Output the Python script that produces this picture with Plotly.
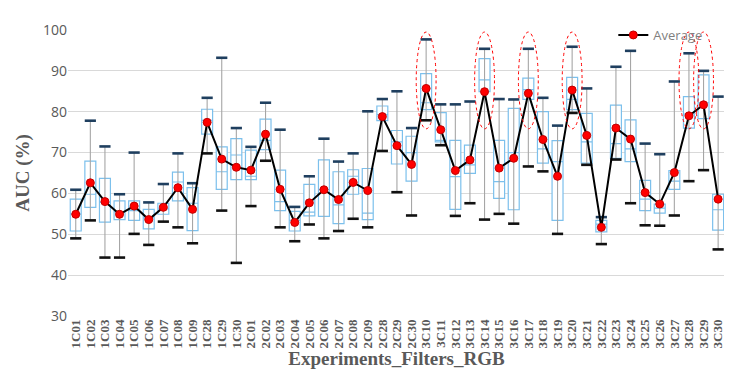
import plotly.graph_objects as go

categories = ["1C01","1C02","1C03","1C04","1C05","1C06","1C07","1C08","1C09","1C28","1C29","1C30",
              "2C01","2C02","2C03","2C04","2C05","2C06","2C07","2C08","2C09","2C28","2C29","2C30",
              "3C10","3C11","3C12","3C13","3C14","3C15","3C16","3C17","3C18","3C19","3C20","3C21",
              "3C22","3C23","3C24","3C25","3C26","3C27","3C28","3C29","3C30"]

whisker_low = [49.0,53.4,44.3,44.3,50.1,47.4,53.1,51.7,47.8,69.8,55.8,43.0,
               56.9,68.0,51.7,48.3,52.4,49.0,50.8,53.8,51.7,70.4,60.3,54.6,
               77.9,71.8,54.5,57.6,53.6,55.0,52.6,66.6,65.4,50.1,79.7,67.0,
               47.6,68.3,57.6,52.2,52.1,54.6,63.0,65.7,46.3]
q1 = [50.8,56.6,53.0,53.6,53.4,51.3,54.9,58.2,50.9,74.5,61.0,63.4,
      63.4,70.7,55.8,50.8,54.5,54.4,52.6,59.8,53.6,77.8,67.2,63.0,
      80.5,72.6,56.1,64.9,84.9,58.8,56.0,83.0,67.4,53.4,80.5,67.4,
      50.6,68.6,67.8,55.8,55.2,61.0,76.0,78.3,51.0]
median = [55.0,59.8,57.8,55.5,55.8,54.0,56.2,62.8,57.6,77.9,65.3,69.4,
          64.2,73.0,58.0,53.4,55.4,61.0,57.2,64.2,55.2,79.3,72.6,70.0,
          82.2,73.0,64.1,67.0,87.8,62.9,70.0,85.4,70.9,67.8,83.0,72.6,
          52.5,72.2,70.9,58.6,56.4,63.0,79.4,82.2,56.0]
q3 = [58.6,67.9,63.7,58.2,58.2,56.1,57.6,65.2,61.4,80.6,71.4,73.4,
      70.6,78.2,65.7,55.6,62.2,68.2,65.3,65.8,66.1,81.4,75.4,74.0,
      89.3,79.8,73.0,71.8,93.0,73.0,80.8,88.2,80.0,72.9,88.4,79.6,
      53.4,81.6,78.0,63.2,57.4,65.6,83.7,89.0,59.8]
whisker_high = [60.9,77.8,71.5,59.8,70.0,57.8,62.3,69.8,62.5,83.4,93.2,76.0,
                71.4,82.2,75.6,56.7,64.2,73.4,67.8,69.8,80.1,83.1,85.0,76.0,
                97.7,81.8,81.8,82.5,95.4,83.1,83.0,95.4,83.4,76.6,95.9,85.7,
                54.2,91.0,94.9,72.2,69.6,87.4,94.3,90.0,83.7]
average = [54.9,62.6,58.0,54.9,56.9,53.6,56.6,61.4,56.1,77.4,68.4,66.4,
           65.7,74.5,61.0,52.9,57.7,60.9,58.5,62.7,60.7,78.8,71.7,67.1,
           85.7,75.6,65.6,68.2,84.9,66.2,68.6,84.5,73.2,64.2,85.3,74.2,
           51.7,76.0,73.3,60.2,57.4,65.1,79.0,81.7,58.6]
highlighted = ["3C10","3C14","3C17","3C20","3C28","3C29"]
y_ticks = [30, 40, 50, 60, 70, 80, 90, 100]

idx = list(range(len(categories)))

fig = go.Figure()

# whiskers (grey vertical lines)
wx, wy = [], []
for i, lo, hi in zip(idx, whisker_low, whisker_high):
    wx += [i, i, None]
    wy += [lo, hi, None]
fig.add_trace(go.Scatter(x=wx, y=wy, mode="lines", line=dict(color="#A6A6A6", width=1.1),
                         showlegend=False, hoverinfo="skip"))

# boxes
fig.add_trace(go.Box(x=idx, q1=q1, median=median, q3=q3, lowerfence=q1, upperfence=q3,
                     width=0.75, fillcolor="white", line=dict(color="#7CC0EC", width=1.2),
                     whiskerwidth=0, showlegend=False, boxpoints=False, hoverinfo="skip"))

# caps
fig.add_trace(go.Scatter(x=idx, y=whisker_high, mode="markers",
                         marker=dict(symbol="line-ew", size=8, line=dict(color="#1F3F5F", width=2.6)),
                         showlegend=False, hoverinfo="skip"))
fig.add_trace(go.Scatter(x=idx, y=whisker_low, mode="markers",
                         marker=dict(symbol="line-ew", size=8, line=dict(color="#111111", width=2.6)),
                         showlegend=False, hoverinfo="skip"))

# averages
fig.add_trace(go.Scatter(x=idx, y=average, mode="lines+markers", name="Average",
                         line=dict(color="black", width=2),
                         marker=dict(color="#FF0000", size=8, line=dict(color="#C00000", width=1))))

# ellipses
for c in highlighted:
    i = categories.index(c)
    fig.add_shape(type="circle", xref="x", yref="y", x0=i - 0.68, x1=i + 0.68, y0=75.8, y1=99.5,
                  line=dict(color="#FF0000", width=1, dash="dot"))

fig.update_layout(
    width=732, height=376,
    margin=dict(l=60, r=15, t=16, b=68),
    paper_bgcolor="white", plot_bgcolor="white",
    legend=dict(x=0.83, y=1.035, xanchor="left", yanchor="top", bgcolor="rgba(0,0,0,0)",
                font=dict(family="Open Sans", size=13, color="#7F7F7F"), itemwidth=30),
    xaxis=dict(tickmode="array", tickvals=idx, ticktext=categories, tickangle=-90,
               range=[-0.53, 44.47], showgrid=False, zeroline=False, showline=False,
               tickfont=dict(family="Liberation Serif", size=13, color="#595959", weight="bold"),
               ticks="", title=dict(text="Experiments_Filters_RGB", standoff=4,
                                    font=dict(family="Liberation Serif", size=19, color="#595959", weight="bold"))),
    yaxis=dict(range=[30, 100], tickvals=y_ticks, showgrid=True, gridcolor="#D9D9D9", gridwidth=1,
               zeroline=False, showline=False, ticks="",
               tickfont=dict(family="Open Sans", size=14, color="#595959"),
               title=dict(text="AUC (%)", standoff=8,
                          font=dict(family="Liberation Serif", size=19, color="#595959", weight="bold"))),
)

fig.write_html("out.html")
